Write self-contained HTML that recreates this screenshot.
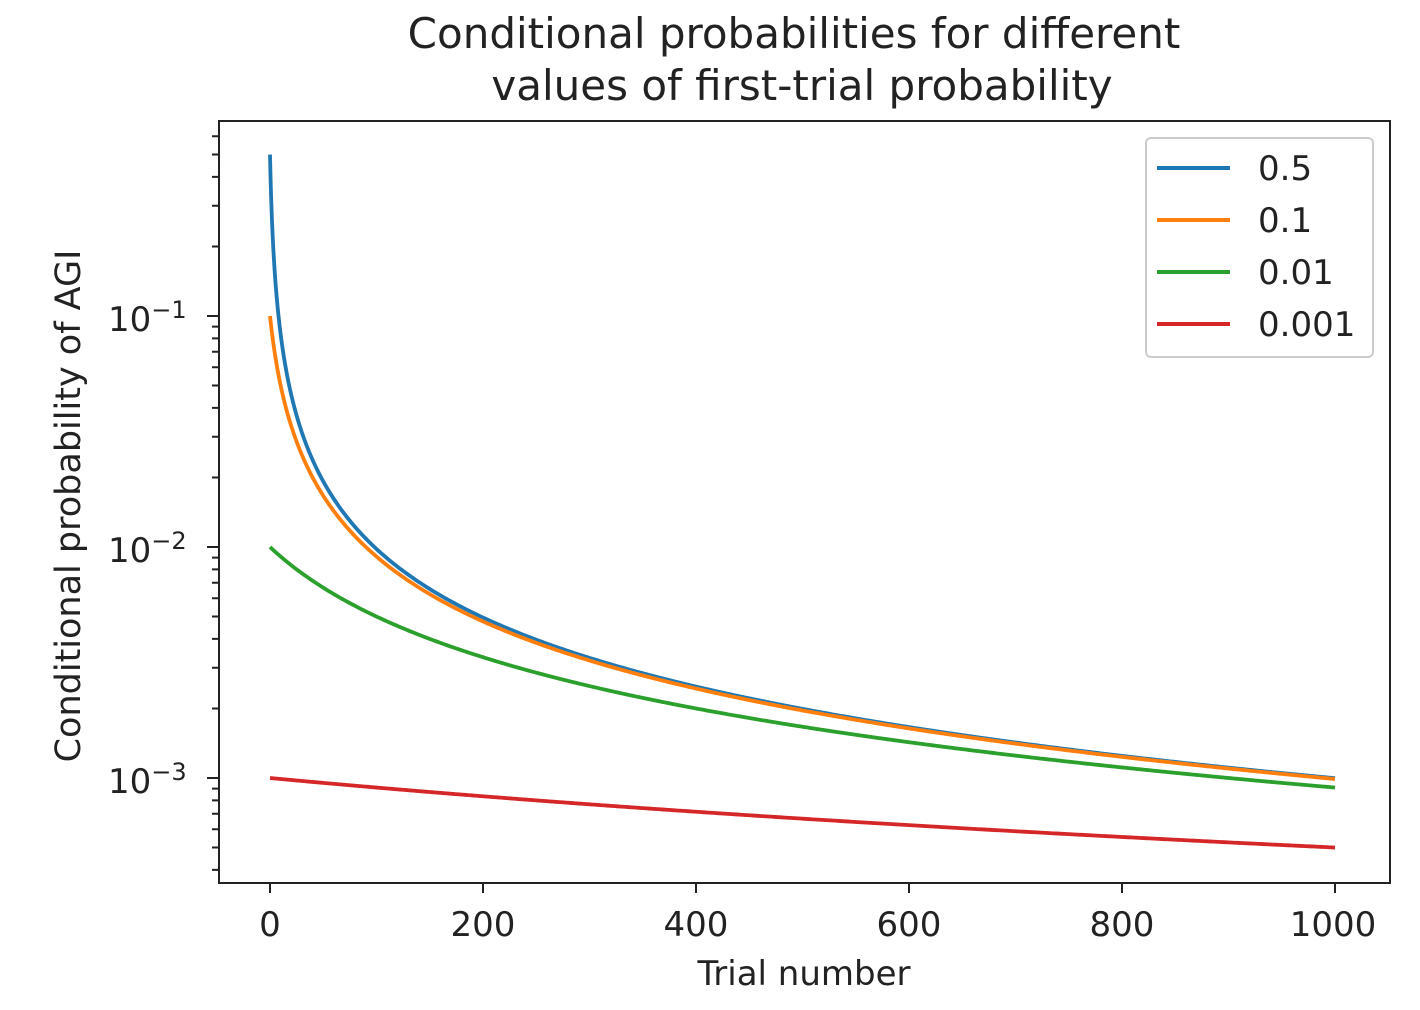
<!DOCTYPE html>
<html><head><meta charset="utf-8"><style>
html,body{margin:0;padding:0;background:#fff;}
svg{display:block;font-family:"DejaVu Sans","Liberation Sans",sans-serif;}
</style></head><body>
<svg id="s" width="1420" height="1010" viewBox="0 0 1420 1010" xmlns="http://www.w3.org/2000/svg">
<rect width="1420" height="1010" fill="#fff"/>
<text x="794" y="48" font-size="42" text-anchor="middle" fill="#222">Conditional probabilities for different</text>
<text x="802" y="100" font-size="42" text-anchor="middle" fill="#222">values of first-trial probability</text>
<g id="curves" fill="none" stroke-width="3.8"></g>
<rect x="219" y="121" width="1171" height="762" fill="none" stroke="#222" stroke-width="2"/>
<g id="ticks" stroke="#222" stroke-width="2"></g>
<g font-size="34" fill="#222" text-anchor="middle">
<text x="270" y="936">0</text><text x="483" y="936">200</text><text x="696" y="936">400</text>
<text x="909" y="936">600</text><text x="1122" y="936">800</text><text x="1333" y="936">1000</text>
</g>
<text x="804" y="985" font-size="34" text-anchor="middle" fill="#222">Trial number</text>
<text transform="translate(80,506) rotate(-90)" font-size="35" text-anchor="middle" fill="#222">Conditional probability of AGI</text>
<g font-size="34" fill="#222">
<text x="108" y="331">10<tspan font-size="24" dy="-13">−1</tspan></text>
<text x="108" y="562">10<tspan font-size="24" dy="-13">−2</tspan></text>
<text x="108" y="793">10<tspan font-size="24" dy="-13">−3</tspan></text>
</g>
<rect x="1146" y="138" width="227" height="219" rx="5" fill="#fff" fill-opacity="0.8" stroke="#ccc" stroke-width="2"/>
<g stroke-width="4">
<line x1="1157" y1="168" x2="1230" y2="168" stroke="#1f77b4"/>
<line x1="1157" y1="220" x2="1230" y2="220" stroke="#ff7f0e"/>
<line x1="1157" y1="272" x2="1230" y2="272" stroke="#2ca02c"/>
<line x1="1157" y1="324" x2="1230" y2="324" stroke="#d62728"/>
</g>
<g font-size="34" fill="#222">
<text x="1258" y="180">0.5</text><text x="1258" y="232">0.1</text>
<text x="1258" y="284">0.01</text><text x="1258" y="336">0.001</text>
</g>
</svg>
<script>
(function(){
var X=function(n){return 270+n*1.065;};
var Y=function(v){return 778-231*(Math.log10(v)+3);};
var ps=[[0.5,"#1f77b4"],[0.1,"#ff7f0e"],[0.01,"#2ca02c"],[0.001,"#d62728"]];
var g=document.getElementById("curves"),ns="http://www.w3.org/2000/svg";
ps.forEach(function(p){var d="";for(var n=0;n<=1000;n+=(n<20?0.25:2)){var v=p[0]/(1+n*p[0]);d+=(d?"L":"M")+X(n).toFixed(2)+","+Y(v).toFixed(2);}
var e=document.createElementNS(ns,"path");e.setAttribute("d",d);e.setAttribute("stroke",p[1]);g.appendChild(e);});
var t=document.getElementById("ticks"),s="";
[0,200,400,600,800,1000].forEach(function(n){s+="M"+X(n)+",883v10";});
for(var e=-4;e<=0;e++){for(var k=1;k<10;k++){var v=k*Math.pow(10,e),y=Y(v);if(y<121||y>883)continue;s+="M219,"+y.toFixed(2)+"h"+(k==1?-12:-7);}}
var pa=document.createElementNS(ns,"path");pa.setAttribute("d",s);t.appendChild(pa);
})();
</script>
</body></html>
